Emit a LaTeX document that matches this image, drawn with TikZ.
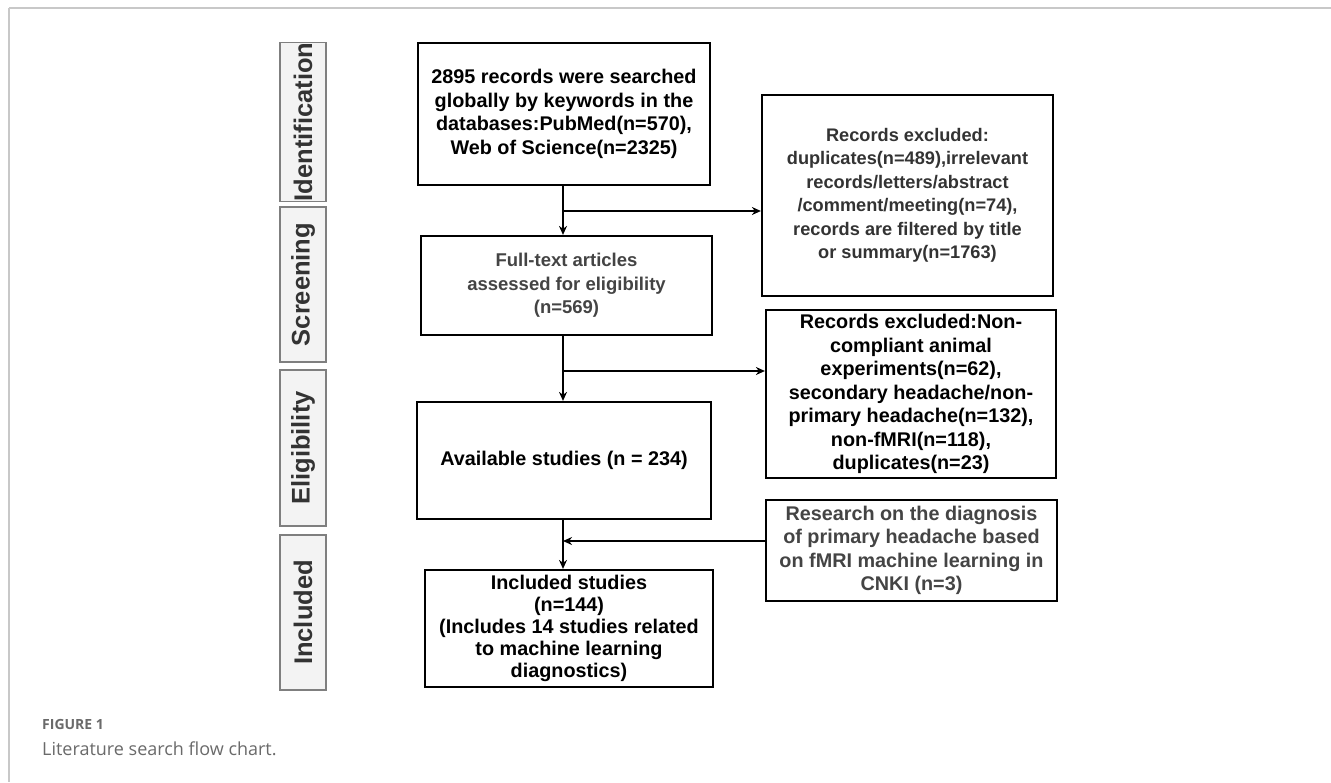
\documentclass[tikz,border=0pt]{standalone}
\usepackage{fontspec}
\setmainfont{Liberation Sans}
\newfontfamily\capfont{Open Sans}
\usetikzlibrary{arrows.meta}
\definecolor{framegray}{HTML}{C8C8C8}
\definecolor{labfill}{HTML}{F3F3F3}
\definecolor{labdraw}{HTML}{7F7F7F}
\definecolor{labtext}{HTML}{333333}
\definecolor{graytext}{HTML}{444444}
\definecolor{captext}{HTML}{6A6A6A}
\tikzset{
  stage/.style={draw=labdraw, fill=labfill, line width=1.6pt, minimum height=46pt, inner sep=0pt, rotate=90,
    font=\fontsize{25.5}{28}\selectfont\bfseries, text=labtext},
  box/.style={draw=black, line width=2.2pt, inner sep=2pt, align=center,
    font=\fontsize{19.8}{23.5}\selectfont\bfseries},
  arr/.style={line width=1.8pt, -{Stealth[length=9pt,width=8pt]}},
  ln/.style={line width=1.8pt}
}
\begin{document}
\begin{tikzpicture}[x=1pt,y=-1pt]
\useasboundingbox (0,0) rectangle (1331,782);
\fill[white] (0,0) rectangle (1331,782);
% frame
\coordinate (fc) at (9,8);
\draw[framegray, line width=2pt] (fc) -- (fc -| 1331,0);
\draw[framegray, line width=2pt] (fc) -- (fc |- 0,782);
% stage labels
\node[stage, minimum width=156pt] (st1) at (303,122) {Identification};
\node[stage, minimum width=155pt] (st2) at (303,284.5) {Screening};
\node[stage, minimum width=156pt] (st3) at (303,448) {Eligibility};
\node[stage, minimum width=155pt] (st4) at (303,612.5) {Included};
% main boxes
\node[box, minimum width=292pt, minimum height=142pt] (b1) at (564,114)
  {2895 records were searched\\globally by keywords in the\\databases:PubMed(n=570),\\Web of Science(n=2325)};
\node[box, minimum width=291pt, minimum height=99pt, text=graytext,
  font=\fontsize{18.5}{23.5}\selectfont\bfseries] (b2) at (566.5,285.5)
  {Full-text articles\\assessed for eligibility\\(n=569)};
\node[box, minimum width=294pt, minimum height=117pt] (b3) at (564,460.5)
  {Available studies (n = 234)};
\node[box, minimum width=288pt, minimum height=117pt,
  font=\fontsize{19.8}{22}\selectfont\bfseries] (b4) at (569,628.5)
  {Included studies\\(n=144)\\(Includes 14 studies related\\to machine learning\\diagnostics)};
% right boxes
\node[box, minimum width=291pt, minimum height=201pt, text=labtext,
  font=\fontsize{18.2}{23.5}\selectfont\bfseries] (r1) at (907.5,195.5)
  {Records excluded:\\duplicates(n=489),irrelevant\\records/letters/abstract\\/comment/meeting(n=74),\\records are filtered by title\\or summary(n=1763)};
\node[box, minimum width=290pt, minimum height=168pt] (r2) at (911,394)
  {Records excluded:Non-\\compliant animal\\experiments(n=62),\\secondary headache/non-\\primary headache(n=132),\\non-fMRI(n=118),\\duplicates(n=23)};
\node[box, minimum width=291pt, minimum height=101pt, text=graytext] (r3) at (911.5,550.5)
  {Research on the diagnosis\\of primary headache based\\on fMRI machine learning in\\CNKI (n=3)};
% connectors
\coordinate (j1) at (563,211);
\coordinate (j2) at (563,371);
\coordinate (j3) at (563,541);
\draw[arr] (b1.south -| j1) -- (b2.north -| j1);
\draw[arr] (j1) -- (j1 -| r1.west);
\draw[arr] (b2.south -| j2) -- (b3.north -| j2);
\draw[arr] (j2) -- (j2 -| r2.west);
\draw[arr] (b3.south -| j3) -- (b4.north -| j3);
\draw[arr] (r3.west |- j3) -- (j3);
% caption
\node[anchor=base west, inner sep=0pt, text=captext, font=\capfont\fontsize{14}{16}\selectfont\bfseries] (cap1) at (42,729) {FIGURE 1};
\node[anchor=base west, inner sep=0pt, text=captext, font=\capfont\fontsize{18}{20}\selectfont] (cap2) at (42,755) {Literature search flow chart.};
\end{tikzpicture}
\end{document}
